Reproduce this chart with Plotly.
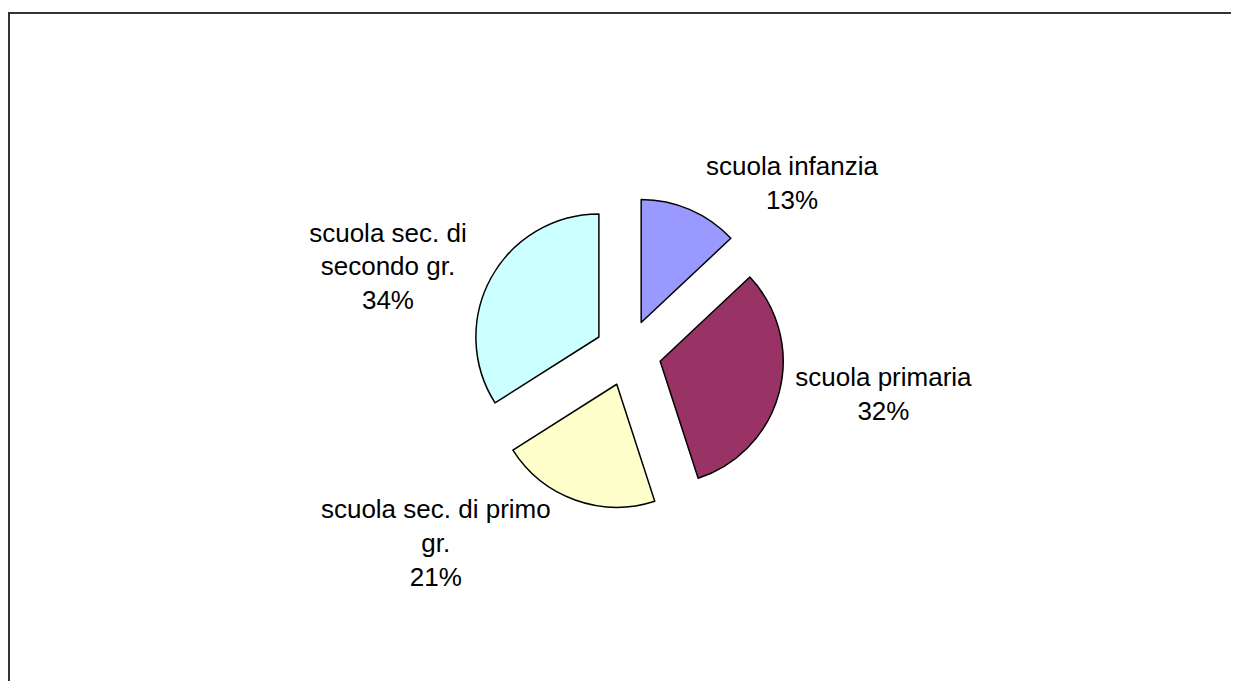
import plotly.graph_objects as go

# categorie e valori (percentuali)
categorie = ["scuola infanzia", "scuola primaria", "scuola sec. di primo gr.", "scuola sec. di secondo gr."]
etichette = ["scuola infanzia", "scuola primaria", "scuola sec. di primo<br>gr.", "scuola sec. di<br>secondo gr."]
valori = [13, 32, 21, 34]
colori = ["#9999FF", "#993366", "#FFFFCC", "#CCFFFF"]

# la pagina ha 8px di margine per lato: la figura deve stare dentro la finestra senza scrollbar
off = 8
W, H = 1239 - 2 * off, 689 - 2 * off
cx, cy = 628 - off, 353 - off   # centro della torta in pixel
raggio, stacco = 123, 0.27       # raggio e "esplosione" delle fette
half = raggio * (1 + stacco)

fig = go.Figure(go.Pie(
    labels=categorie, values=valori, customdata=etichette,
    sort=False, direction="clockwise", rotation=0,
    pull=[stacco] * len(valori),
    marker=dict(colors=colori, line=dict(color="black", width=1.5)),
    texttemplate="%{customdata}<br>%{percent}",
    textposition="outside",
    textfont=dict(family="Liberation Sans, Arial", size=26, color="black"),
    hoverinfo="skip",
    domain=dict(x=[(cx - half) / W, (cx + half) / W],
                y=[1 - (cy + half) / H, 1 - (cy - half) / H]),
))

# cornice dell'area grafico: solo lato sinistro e superiore sono visibili
x_sx = 1 / W
y_su = 1 - (13 - off) / H
fig.add_shape(type="line", xref="paper", yref="paper",
              x0=x_sx, x1=x_sx, y0=0, y1=y_su,
              line=dict(color="#333333", width=2))
fig.add_shape(type="line", xref="paper", yref="paper",
              x0=x_sx - 1 / W, x1=1, y0=y_su, y1=y_su,
              line=dict(color="#333333", width=2))

fig.update_layout(width=W, height=H, showlegend=False,
                  margin=dict(l=0, r=0, t=0, b=0),
                  paper_bgcolor="white", plot_bgcolor="white")

fig.write_html("out.html")
